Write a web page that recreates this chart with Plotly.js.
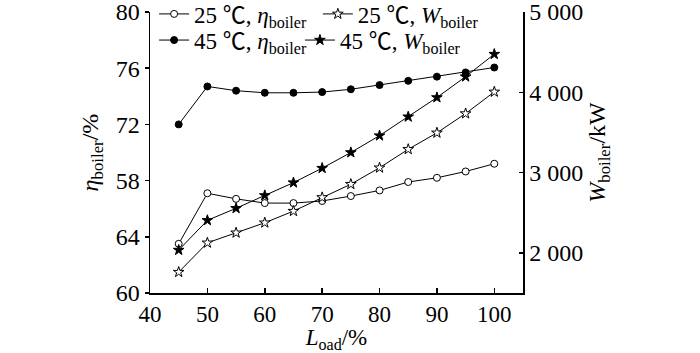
<!DOCTYPE html>
<html>
<head>
<meta charset="utf-8">
<script src="https://cdn.plot.ly/plotly-3.0.1.min.js"></script>
<style>html,body{margin:0;padding:0;background:#fff;}#chart{width:700px;height:353px;}</style>
</head>
<body>
<div id="chart"></div>
<script>
// Load rate (%)
const loadPct = [45, 50, 55, 60, 65, 70, 75, 80, 85, 90, 95, 100];
// Boiler efficiency (%)
const eta25 = [63.5, 67.1, 66.7, 66.4, 66.4, 66.55, 66.9, 67.3, 67.9, 68.2, 68.65, 69.2];
const eta45 = [72.0, 74.7, 74.4, 74.25, 74.25, 74.3, 74.5, 74.8, 75.1, 75.4, 75.7, 76.05];
// Boiler power (kW)
const w25 = [1760, 2125, 2250, 2375, 2520, 2690, 2855, 3060, 3290, 3495, 3735, 4005];
const w45 = [2035, 2405, 2555, 2715, 2875, 3055, 3250, 3460, 3695, 3935, 4195, 4475];
// Tick labels
const xTicks = [40, 50, 60, 70, 80, 90, 100];
const etaTickVals = [60, 64, 68, 72, 76, 80];
const etaTickText = ["60", "64", "58", "72", "76", "80"];
const wTickVals = [2000, 3000, 4000, 5000];
const wTickText = ["2 000", "3 000", "4 000", "5 000"];

const font = "Liberation Serif";
const legFont = "Liberation Serif, Noto Sans CJK SC";
const lineStyle = {color: "#000", width: 1};

const traces = [
  {x: loadPct, y: eta25, name: "25 ℃, <i>η</i><sub>boiler</sub>", mode: "lines+markers", yaxis: "y", legend: "legend",
   line: lineStyle, marker: {symbol: "circle", size: 7, color: "#fff", line: {color: "#000", width: 1}}},
  {x: loadPct, y: w25, name: "25 ℃, <i>W</i><sub>boiler</sub>", mode: "lines+markers", yaxis: "y2", legend: "legend2",
   line: lineStyle, marker: {symbol: "star", size: 8, color: "#fff", line: {color: "#000", width: 1}}},
  {x: loadPct, y: eta45, name: "45 ℃, <i>η</i><sub>boiler</sub>", mode: "lines+markers", yaxis: "y", legend: "legend3",
   line: lineStyle, marker: {symbol: "circle", size: 7, color: "#000", line: {color: "#000", width: 1}}},
  {x: loadPct, y: w45, name: "45 ℃, <i>W</i><sub>boiler</sub>", mode: "lines+markers", yaxis: "y2", legend: "legend4",
   line: lineStyle, marker: {symbol: "star", size: 8, color: "#000", line: {color: "#000", width: 1}}}
];

const legendBase = {
  orientation: "v", xanchor: "left", yanchor: "middle",
  bgcolor: "rgba(0,0,0,0)", font: {family: legFont, size: 23, color: "#000"},
  itemwidth: 30
};

const layout = {
  width: 700, height: 353,
  margin: {l: 150, r: 177, t: 12, b: 60, autoexpand: false},
  paper_bgcolor: "#fff", plot_bgcolor: "#fff",
  font: {family: font, size: 24, color: "#000"},
  showlegend: true,
  legend: Object.assign({}, legendBase, {x: 0.011, y: 0.993}),
  legend2: Object.assign({}, legendBase, {x: 0.450, y: 0.993}),
  legend3: Object.assign({}, legendBase, {x: 0.011, y: 0.900}),
  legend4: Object.assign({}, legendBase, {x: 0.402, y: 0.900}),
  xaxis: {
    range: [40, 105], tickvals: xTicks, showgrid: false, zeroline: false,
    showline: true, linecolor: "#000", linewidth: 1.5,
    ticks: "inside", ticklen: 5, tickcolor: "#000", tickwidth: 1.5,
    tickfont: {family: font, size: 23}, ticklabeloverflow: "allow",
    title: {text: "<i>L</i><sub>oad</sub>/%", font: {family: font, size: 23}, standoff: 0}
  },
  yaxis: {
    range: [60, 80], tickvals: etaTickVals, ticktext: etaTickText, showgrid: false, zeroline: false,
    showline: true, linecolor: "#000", linewidth: 1.5,
    ticks: "outside", ticklen: 4, tickcolor: "#000", tickwidth: 1.5,
    tickfont: {family: font, size: 24}, ticklabeloverflow: "allow",
    title: {text: "<i>η</i><sub>boiler</sub>/%", font: {family: font, size: 24}, standoff: 10}
  },
  yaxis2: {
    range: [1500, 5000], tickvals: wTickVals, ticktext: wTickText, overlaying: "y", side: "right",
    showgrid: false, zeroline: false,
    showline: true, linecolor: "#000", linewidth: 1.5,
    ticks: "inside", ticklen: 4, tickcolor: "#000", tickwidth: 1.5,
    tickfont: {family: font, size: 24}, ticklabeloverflow: "allow",
    title: {text: "<i>W</i><sub>boiler</sub>/kW", font: {family: font, size: 24}, standoff: 6}
  }
};

Plotly.newPlot("chart", traces, layout, {displayModeBar: false, staticPlot: true});
</script>
</body>
</html>
